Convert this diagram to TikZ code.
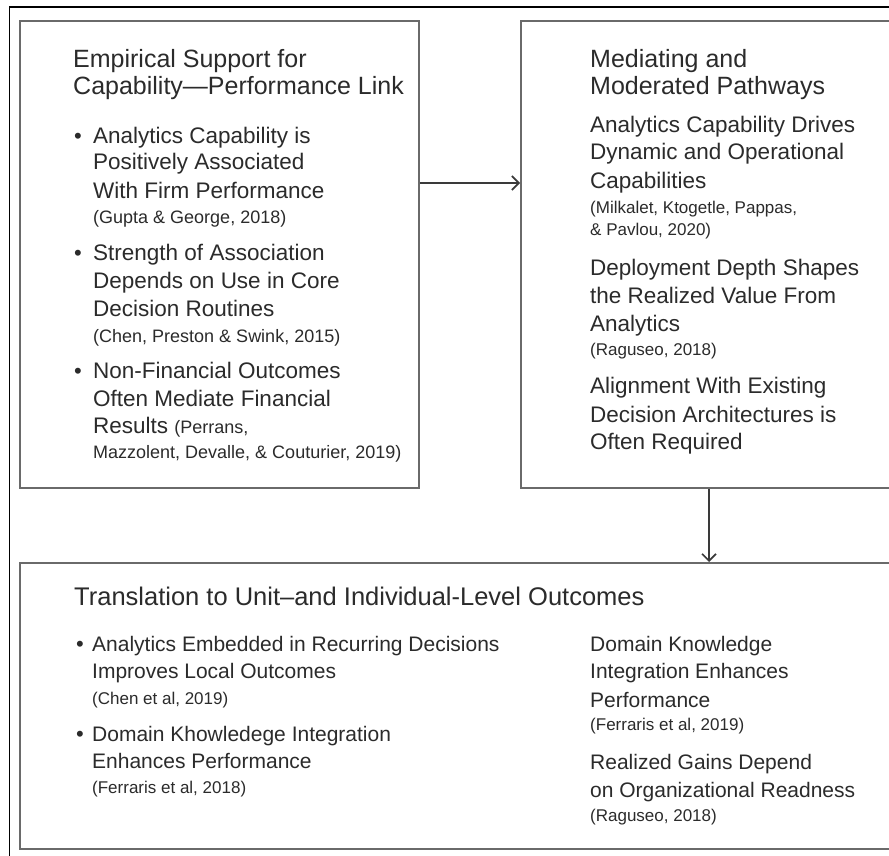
\documentclass[tikz,border=0pt]{standalone}
\usepackage{fontspec}
\setmainfont{Liberation Sans}
\usetikzlibrary{arrows.meta}
\definecolor{txt}{HTML}{2B2B2B}
\definecolor{boxc}{HTML}{6A6A6A}
\definecolor{arrc}{HTML}{3A3A3A}
\begin{document}
\begin{tikzpicture}[x=1pt,y=-1pt,
  box/.style={draw=boxc,line width=2pt,inner sep=0pt,rectangle},
  ttl/.style={anchor=base west,inner sep=0pt,text=txt,font=\fontsize{25}{28}\selectfont},
  btl/.style={anchor=base west,inner sep=0pt,text=txt,font=\fontsize{25.5}{28}\selectfont},
  body/.style={anchor=base west,inner sep=0pt,text=txt,font=\fontsize{22.5}{28}\selectfont},
  bbody/.style={anchor=base west,inner sep=0pt,text=txt,font=\fontsize{21}{28}\selectfont},
  cite/.style={anchor=base west,inner sep=0pt,text=txt,font=\fontsize{18}{22}\selectfont},
  rcite/.style={anchor=base west,inner sep=0pt,text=txt,font=\fontsize{17}{22}\selectfont},
  blt/.style={anchor=base west,inner sep=0pt,text=txt,font=\fontsize{22}{28}\selectfont},
  arr/.style={draw=arrc,line width=1.4pt,-{Straight Barb[length=7pt,width=14pt,line width=1.6pt]}}]
\useasboundingbox (0,0) rectangle (889,856);
\clip (0,0) rectangle (889,856);
\fill[white] (0,0) rectangle (889,856);
% outer frame
\draw[black,line width=1.6pt] (9.5,7) rectangle (920,900);
% boxes
\node[box,minimum width=399pt,minimum height=467pt] (L) at (219.5,254.5) {};
\node[box,minimum width=376pt,minimum height=467pt] (R) at (709,254.5) {};
\node[box,minimum width=877pt,minimum height=286pt] (B) at (458.5,706) {};
% connectors
\coordinate (ay) at (0,183);
\draw[arr] (L.east |- ay) -- (R.west |- ay);
\draw[arr] (R.south) -- (R.south |- B.north);
% left box
\node[ttl] (lt1) at (73,68) {Empirical Support for};
\node[ttl] (lt2) at (73,95) {Capability—Performance Link};
\node[blt] (lb1) at (74,143) {•};
\node[body] (l11) at (93,143) {Analytics Capability is};
\node[body] (l12) at (93,170) {Positively Associated};
\node[body] (l13) at (93,198) {With Firm Performance};
\node[cite] (l14) at (93,223) {(Gupta \& George, 2018)};
\node[blt] (lb2) at (74,260) {•};
\node[body] (l21) at (93,260) {Strength of Association};
\node[body] (l22) at (93,288) {Depends on Use in Core};
\node[body] (l23) at (93,316) {Decision Routines};
\node[cite] (l24) at (93,342) {(Chen, Preston \& Swink, 2015)};
\node[blt] (lb3) at (74,378) {•};
\node[body] (l31) at (93,378) {Non-Financial Outcomes};
\node[body] (l32) at (93,406) {Often Mediate Financial};
\node[body] (l33) at (93,433) {Results {\fontsize{18}{22}\selectfont(Perrans,}};
\node[cite] (l34) at (93,458) {Mazzolent, Devalle, \& Couturier, 2019)};
% right box
\node[ttl] (rt1) at (590,68) {Mediating and};
\node[ttl] (rt2) at (590,95) {Moderated Pathways};
\node[body] (r11) at (590,133) {Analytics Capability Drives};
\node[body] (r12) at (590,160) {Dynamic and Operational};
\node[body] (r13) at (590,188) {Capabilities};
\node[rcite] (r14) at (590,213) {(Milkalet, Ktogetle, Pappas,};
\node[rcite] (r15) at (590,235) {\& Pavlou, 2020)};
\node[body] (r21) at (590,275) {Deployment Depth Shapes};
\node[body] (r22) at (590,303) {the Realized Value From};
\node[body] (r23) at (590,331) {Analytics};
\node[rcite] (r24) at (590,355) {(Raguseo, 2018)};
\node[body] (r31) at (590,393) {Alignment With Existing};
\node[body] (r32) at (590,422) {Decision Architectures is};
\node[body] (r33) at (590,449) {Often Required};
% bottom box
\node[btl] (bt) at (74,605) {Translation to Unit–and Individual-Level Outcomes};
\node[blt] (bb1) at (76,651) {•};
\node[bbody] (b11) at (92,651) {Analytics Embedded in Recurring Decisions};
\node[bbody] (b12) at (92,678) {Improves Local Outcomes};
\node[rcite] (b13) at (92,704) {(Chen et al, 2019)};
\node[blt] (bb2) at (76,741) {•};
\node[bbody] (b21) at (92,741) {Domain Khowledege Integration};
\node[bbody] (b22) at (92,768) {Enhances Performance};
\node[rcite] (b23) at (92,793) {(Ferraris et al, 2018)};
\node[bbody] (c11) at (590,651) {Domain Knowledge};
\node[bbody] (c12) at (590,678) {Integration Enhances};
\node[bbody] (c13) at (590,707) {Performance};
\node[rcite] (c14) at (590,730) {(Ferraris et al, 2019)};
\node[bbody] (c21) at (590,769) {Realized Gains Depend};
\node[bbody] (c22) at (590,797) {on Organizational Readness};
\node[rcite] (c23) at (590,821) {(Raguseo, 2018)};
\end{tikzpicture}
\end{document}
